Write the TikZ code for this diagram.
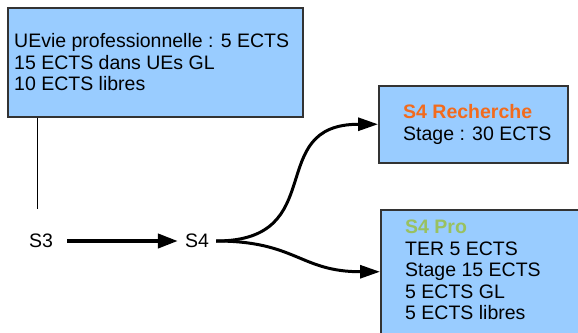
\documentclass[tikz,border=0pt]{standalone}
\usepackage{fontspec}
\setmainfont{Liberation Sans}
\usetikzlibrary{arrows.meta}
\definecolor{boxblue}{HTML}{99CCFF}
\definecolor{boxline}{HTML}{333333}
\definecolor{rechorange}{HTML}{F26B1D}
\definecolor{progreen}{HTML}{99C160}

\begin{document}
\begin{tikzpicture}[x=1pt, y=-1pt,
  box/.style={draw=boxline, line width=1.5pt, fill=boxblue, rectangle, inner sep=0pt, anchor=north west},
  txt/.style={align=left, inner sep=0pt, font=\fontsize{19.5}{21.5}\selectfont},
  sem/.style={inner xsep=7pt, inner ysep=2pt, font=\fontsize{19.5}{21.5}\selectfont},
  link/.style={-{Triangle[length=20pt,width=13pt]}, line width=3pt}]
\useasboundingbox (0,0) rectangle (578,332);

% boxes
\node (ue) [box, minimum width=295pt, minimum height=109pt] at (7,7) {};
\node (rech) [box, minimum width=189pt, minimum height=77pt] at (378,85) {};
\node (pro) [box, minimum width=220pt, minimum height=124pt] at (380,209) {};

% box texts
\node (uetext) [txt, anchor=west] at ([xshift=7pt]ue.west) {UEvie professionnelle : 5 ECTS\\15 ECTS dans UEs GL\\10 ECTS libres};
\node (rechtext) [txt, anchor=west] at ([xshift=25pt]rech.west) {\textcolor{rechorange}{\bfseries S4 Recherche}\\Stage : 30 ECTS};
\node (protext) [txt, anchor=north west] at ([xshift=25pt, yshift=-11pt]pro.north west) {\textcolor{progreen}{\bfseries S4 Pro}\\TER 5 ECTS\\Stage 15 ECTS\\5 ECTS GL\\5 ECTS libres};

% semesters
\node (s3) [sem] at (41,241) {S3};
\node (s4) [sem] at (197,241) {S4};
\coordinate (join) at (37,209);

\draw[line width=0.8pt] (ue.south -| join) -- (join);
\draw[-{Triangle[length=20pt,width=14pt]}, line width=4pt, shorten <=7pt] (s3) -- (s4);
\draw[link] (s4.east) .. controls +(115,0) and +(-115,0) .. (rech.west);
\draw[link] (s4.east) .. controls +(80,0) and +(-80,0) .. (pro.west);
\end{tikzpicture}
\end{document}
